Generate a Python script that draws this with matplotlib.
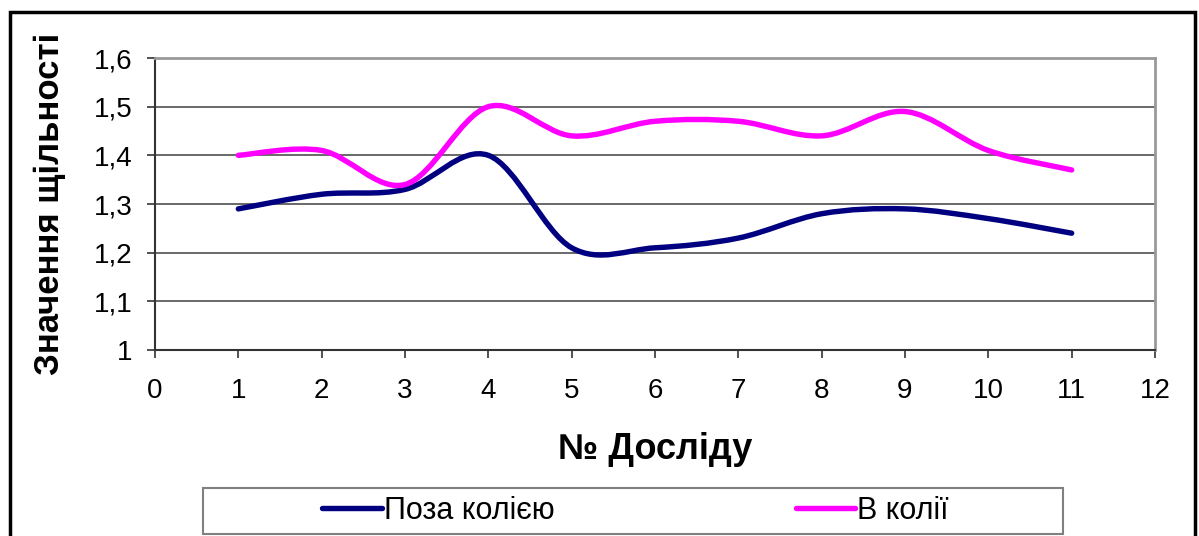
import numpy as np
import matplotlib.pyplot as plt
from matplotlib.path import Path
from matplotlib.patches import PathPatch, Rectangle
from matplotlib.lines import Line2D

plt.rcParams['font.family'] = ['Liberation Sans', 'DejaVu Sans']

# Номер досліду та значення щільності
experiments = [1, 2, 3, 4, 5, 6, 7, 8, 9, 10, 11]
outside_track = [1.29, 1.32, 1.33, 1.40, 1.21, 1.21, 1.23, 1.28, 1.29, 1.27, 1.24]
in_track = [1.40, 1.41, 1.34, 1.50, 1.44, 1.47, 1.47, 1.44, 1.49, 1.41, 1.37]

series_names = ['Поза колією', 'В колії']
series_colors = ['#000080', '#FF00FF']

x_ticks = list(range(0, 13))
y_ticks = [1.0, 1.1, 1.2, 1.3, 1.4, 1.5, 1.6]
y_tick_labels = ['1', '1,1', '1,2', '1,3', '1,4', '1,5', '1,6']


def smooth_path(xs, ys):
    """Bezier path through the points (same scheme as a spreadsheet 'smoothed line')."""
    p = np.column_stack([xs, ys]).astype(float)
    n = len(p)
    verts = [p[0]]
    codes = [Path.MOVETO]
    for i in range(n - 1):
        prev = p[i - 1] if i > 0 else p[i]
        nxt = p[i + 2] if i + 2 < n else p[i + 1]
        c1 = p[i] + (p[i + 1] - prev) / 6.0
        c2 = p[i + 1] - (nxt - p[i]) / 6.0
        verts += [c1, c2, p[i + 1]]
        codes += [Path.CURVE4] * 3
    return Path(verts, codes)


fig = plt.figure(figsize=(11.99, 5.36), dpi=100)
ax = fig.add_axes([155 / 1199, 1 - 350 / 536, 1000 / 1199, 292 / 536])

for ys, color in zip([outside_track, in_track], series_colors):
    patch = PathPatch(smooth_path(experiments, ys), facecolor='none',
                      edgecolor=color, lw=3.9, capstyle='round',
                      joinstyle='round', zorder=3)
    ax.add_patch(patch)

ax.set_xlim(0, 12)
ax.set_ylim(1.0, 1.6)
ax.set_xticks(x_ticks)
ax.set_yticks(y_ticks)
ax.set_yticklabels(y_tick_labels)
ax.tick_params(axis='both', labelsize=20, direction='out', length=6,
               width=1.2, color='#333333')
ax.tick_params(axis='y', pad=10)
ax.tick_params(axis='x', pad=14)

ax.grid(axis='y', color='#404040', lw=1.1)
ax.set_axisbelow(True)
for side in ['left', 'bottom']:
    ax.spines[side].set_color('#333333')
    ax.spines[side].set_linewidth(1.5)
for side in ['top', 'right']:
    ax.spines[side].set_color('#999999')
    ax.spines[side].set_linewidth(2)

ax.set_xlabel('№ Досліду', fontsize=26, fontweight='bold', labelpad=20)
ax.set_ylabel('Значення щільності', fontsize=25, fontweight='bold', labelpad=20)

# рамка діаграми
fig.patches.append(Rectangle((10 / 1199, -0.05), 1185 / 1199, 1 - 12 / 536 + 0.05,
                             transform=fig.transFigure, fill=False,
                             edgecolor='black', lw=2.5))

# рамка легенди
fig.patches.append(Rectangle((203 / 1199, 1 - 534 / 536), 860 / 1199, 46 / 536,
                             transform=fig.transFigure, fill=False,
                             edgecolor='#808080', lw=1.5))

handles = [Line2D([], [], color=c, lw=3.9, solid_capstyle='round') for c in series_colors]
fig.legend(handles, series_names, loc='center left',
           bbox_to_anchor=(322 / 1199, 1 - 511 / 536), ncol=2, frameon=False,
           fontsize=22, handlelength=1.95, handletextpad=0.07,
           columnspacing=7.9, borderpad=0, borderaxespad=0)

fig.savefig('out.png', dpi=100)
